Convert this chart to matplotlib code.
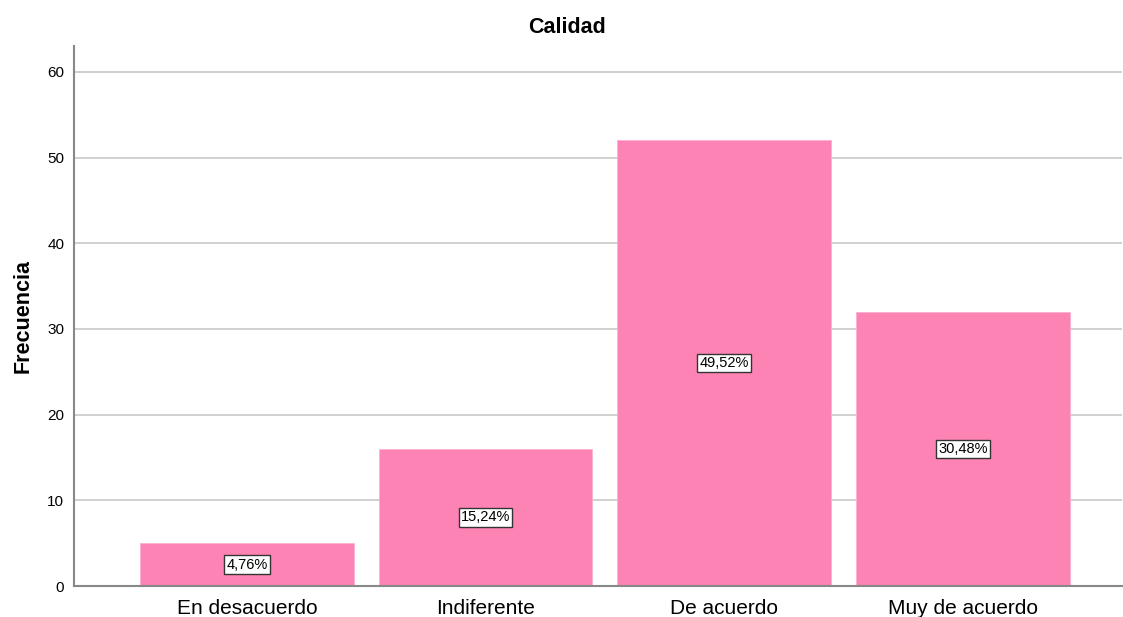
import matplotlib
matplotlib.use("Agg")
from matplotlib import pyplot as plt

plt.rcParams['font.family'] = ['Liberation Sans', 'DejaVu Sans']

categories = ["En desacuerdo", "Indiferente", "De acuerdo", "Muy de acuerdo"]
counts = [5, 16, 52, 32]
pct_labels = ["4,76%", "15,24%", "49,52%", "30,48%"]
yticks = [0, 10, 20, 30, 40, 50, 60]

BAR_COLOR = "#fe83b5"
GRID_COLOR = "#c8c8c8"
SPINE_COLOR = "#888888"

fig = plt.figure(figsize=(11.23, 6.17), dpi=100)
ax = fig.add_axes([0.0659, 0.0502, 0.933, 0.875])

x = list(range(len(categories)))
ax.bar(x, counts, width=0.895, color=BAR_COLOR, edgecolor="#ffb0d0", linewidth=0.6, zorder=2)

for xi, c, lab in zip(x, counts, pct_labels):
    ax.text(xi, c / 2, lab, ha="center", va="center", fontsize=10.5, zorder=3,
            bbox=dict(boxstyle="square,pad=0.15", facecolor="white", edgecolor="#333333", linewidth=1.0))

ax.set_xlim(-0.724, 3.665)
ax.set_ylim(0, 63)
ax.set_yticks(yticks)
ax.set_xticks(x)
ax.set_xticklabels(categories, fontsize=15)
ax.tick_params(axis="y", length=0, labelsize=11, pad=7)
ax.tick_params(axis="x", length=0, pad=9)

ax.yaxis.grid(True, color=GRID_COLOR, linewidth=1.2, zorder=0)
ax.set_axisbelow(True)

for side in ["top", "right"]:
    ax.spines[side].set_visible(False)
for side in ["left", "bottom"]:
    ax.spines[side].set_color(SPINE_COLOR)
    ax.spines[side].set_linewidth(1.5)

ax.set_ylabel("Frecuencia", fontsize=15.5, fontweight="bold", labelpad=10)
fig.text(0.505, 0.955, "Calidad", ha="center", va="center", fontsize=15.5, fontweight="bold")

fig.savefig("out.png", dpi=100)
